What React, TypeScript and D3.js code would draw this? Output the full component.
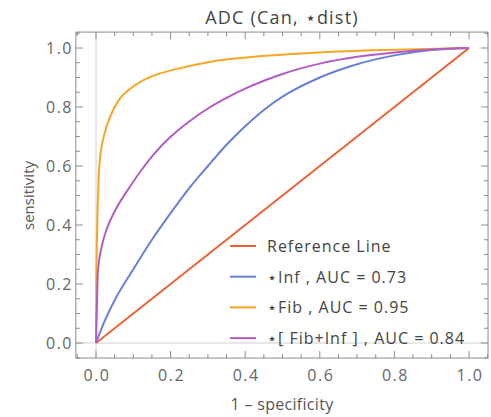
import React, { useEffect, useRef } from 'react';
import * as d3 from 'd3';

// ROC points (false positive rate, true positive rate)
const refFpr = [0, 1];
const refTpr = [0, 1];

const infFpr = [0, 0.02, 0.05, 0.1, 0.15, 0.2, 0.25, 0.3, 0.35, 0.4, 0.45, 0.5, 0.6, 0.7, 0.8, 0.9, 1];
const infTpr = [0, 0.065, 0.145, 0.25, 0.35, 0.44, 0.525, 0.6, 0.672, 0.735, 0.79, 0.835, 0.9, 0.945, 0.975, 0.993, 1];

const fibFpr = [0, 0.0005, 0.001, 0.002, 0.004, 0.007, 0.011, 0.019, 0.03, 0.046, 0.065, 0.09, 0.126, 0.17, 0.22, 0.3, 0.44, 0.6, 0.8, 1];
const fibTpr = [0, 0.12, 0.22, 0.32, 0.44, 0.56, 0.63, 0.69, 0.74, 0.79, 0.83, 0.86, 0.89, 0.913, 0.93, 0.952, 0.972, 0.985, 0.994, 1];

const bothFpr = [0, 0.002, 0.005, 0.015, 0.03, 0.05, 0.08, 0.12, 0.16, 0.2, 0.25, 0.3, 0.35, 0.4, 0.45, 0.5, 0.6, 0.7, 0.8, 0.9, 1];
const bothTpr = [0, 0.1, 0.24, 0.325, 0.39, 0.446, 0.509, 0.583, 0.647, 0.699, 0.751, 0.795, 0.831, 0.862, 0.889, 0.912, 0.947, 0.97, 0.985, 0.995, 1];

const seriesNames = ['Reference Line', '\u22C6Inf , AUC = 0.73', '\u22C6Fib , AUC = 0.95', '\u22C6[ Fib+Inf ] , AUC = 0.84'];
const seriesColors = ['#eb6235', '#6a7fd6', '#f5a623', '#b35cc6'];
const majorTicks = [0, 0.2, 0.4, 0.6, 0.8, 1.0];

const W = 491;
const H = 417;
const font = "'Open Sans', sans-serif";

export default function App() {
  const svgRef = useRef<SVGSVGElement>(null);

  useEffect(() => {
    const svg = d3.select(svgRef.current);
    svg.selectAll('*').remove();

    const x = d3.scaleLinear().domain([0, 1]).range([96, 469]);
    const y = d3.scaleLinear().domain([0, 1]).range([343, 48]);
    const fx = [-0.054, 1.051];
    const fy = [-0.051, 1.054];
    const left = x(fx[0]), right = x(fx[1]), top = y(fy[1]), bottom = y(fy[0]);

    // axes through origin
    svg.append('line').attr('x1', x(0)).attr('x2', x(0)).attr('y1', top).attr('y2', bottom)
      .attr('stroke', '#d0d0d0').attr('stroke-width', 1);
    svg.append('line').attr('x1', left).attr('x2', right).attr('y1', y(0)).attr('y2', y(0))
      .attr('stroke', '#d0d0d0').attr('stroke-width', 1);

    // frame
    svg.append('rect').attr('x', left).attr('y', top).attr('width', right - left).attr('height', bottom - top)
      .attr('fill', 'none').attr('stroke', '#8c8c8c').attr('stroke-width', 1);

    const minorX = d3.range(-1, 22).map((i) => i * 0.05).filter((v) => v >= fx[0] && v <= fx[1]);
    const minorY = d3.range(-1, 22).map((i) => i * 0.05).filter((v) => v >= fy[0] && v <= fy[1]);
    const isMajor = (v: number) => majorTicks.some((m) => Math.abs(m - v) < 1e-6);
    const tg = svg.append('g').attr('stroke', '#8c8c8c').attr('stroke-width', 1);
    minorX.forEach((v) => {
      const len = isMajor(v) ? 7 : 4;
      tg.append('line').attr('x1', x(v)).attr('x2', x(v)).attr('y1', bottom).attr('y2', bottom - len);
      tg.append('line').attr('x1', x(v)).attr('x2', x(v)).attr('y1', top).attr('y2', top + len);
    });
    minorY.forEach((v) => {
      const len = isMajor(v) ? 7 : 4;
      tg.append('line').attr('y1', y(v)).attr('y2', y(v)).attr('x1', left).attr('x2', left + len);
      tg.append('line').attr('y1', y(v)).attr('y2', y(v)).attr('x1', right).attr('x2', right - len);
    });

    // tick labels
    const lab = svg.append('g').attr('font-family', font).attr('font-size', 16).attr('fill', '#666')
      .attr('letter-spacing', 1.5);
    majorTicks.forEach((v) => {
      lab.append('text').attr('x', x(v) + 1).attr('y', 381).attr('text-anchor', 'middle').text(v.toFixed(1));
      lab.append('text').attr('x', 73).attr('y', y(v) + 6).attr('text-anchor', 'end').text(v.toFixed(1));
    });

    // axis titles
    svg.append('text').attr('x', 282).attr('y', 410).attr('text-anchor', 'middle')
      .attr('font-family', font).attr('font-size', 16).attr('fill', '#555').attr('letter-spacing', 0.3)
      .text('1 \u2013 specificity');
    svg.append('text').attr('transform', 'translate(34,' + y(0.5) + ') rotate(-90)').attr('text-anchor', 'middle')
      .attr('font-family', font).attr('font-size', 15).attr('fill', '#555').text('sensitivity');
    svg.append('text').attr('x', 282).attr('y', 24).attr('text-anchor', 'middle')
      .attr('font-family', font).attr('font-size', 18).attr('fill', '#444').attr('letter-spacing', 1.2)
      .text('ADC (Can, \u22C6dist)');

    // curves
    const line = d3.line<[number, number]>()
      .x((d) => x(d[0]))
      .y((d) => y(d[1]))
      .curve(d3.curveMonotoneX);
    const all = [
      d3.zip(refFpr, refTpr),
      d3.zip(infFpr, infTpr),
      d3.zip(fibFpr, fibTpr),
      d3.zip(bothFpr, bothTpr),
    ] as [number, number][][];
    all.forEach((pts, i) => {
      svg.append('path').datum(pts).attr('d', line).attr('fill', 'none')
        .attr('stroke', seriesColors[i]).attr('stroke-width', 2);
    });

    // legend
    const lg = svg.append('g');
    seriesNames.forEach((name, i) => {
      const yy = 246 + i * 30.7;
      lg.append('line').attr('x1', 230).attr('x2', 256).attr('y1', yy).attr('y2', yy)
        .attr('stroke', seriesColors[i]).attr('stroke-width', 2);
      lg.append('text').attr('x', 267).attr('y', yy + 6).attr('font-family', font).attr('font-size', 16)
        .attr('fill', '#444').attr('letter-spacing', 1).text(name);
    });
  }, []);

  return (
    <svg ref={svgRef} width={W} height={H}
      style={{ position: 'absolute', left: 0, top: 0, background: '#fff' }} />
  );
}
